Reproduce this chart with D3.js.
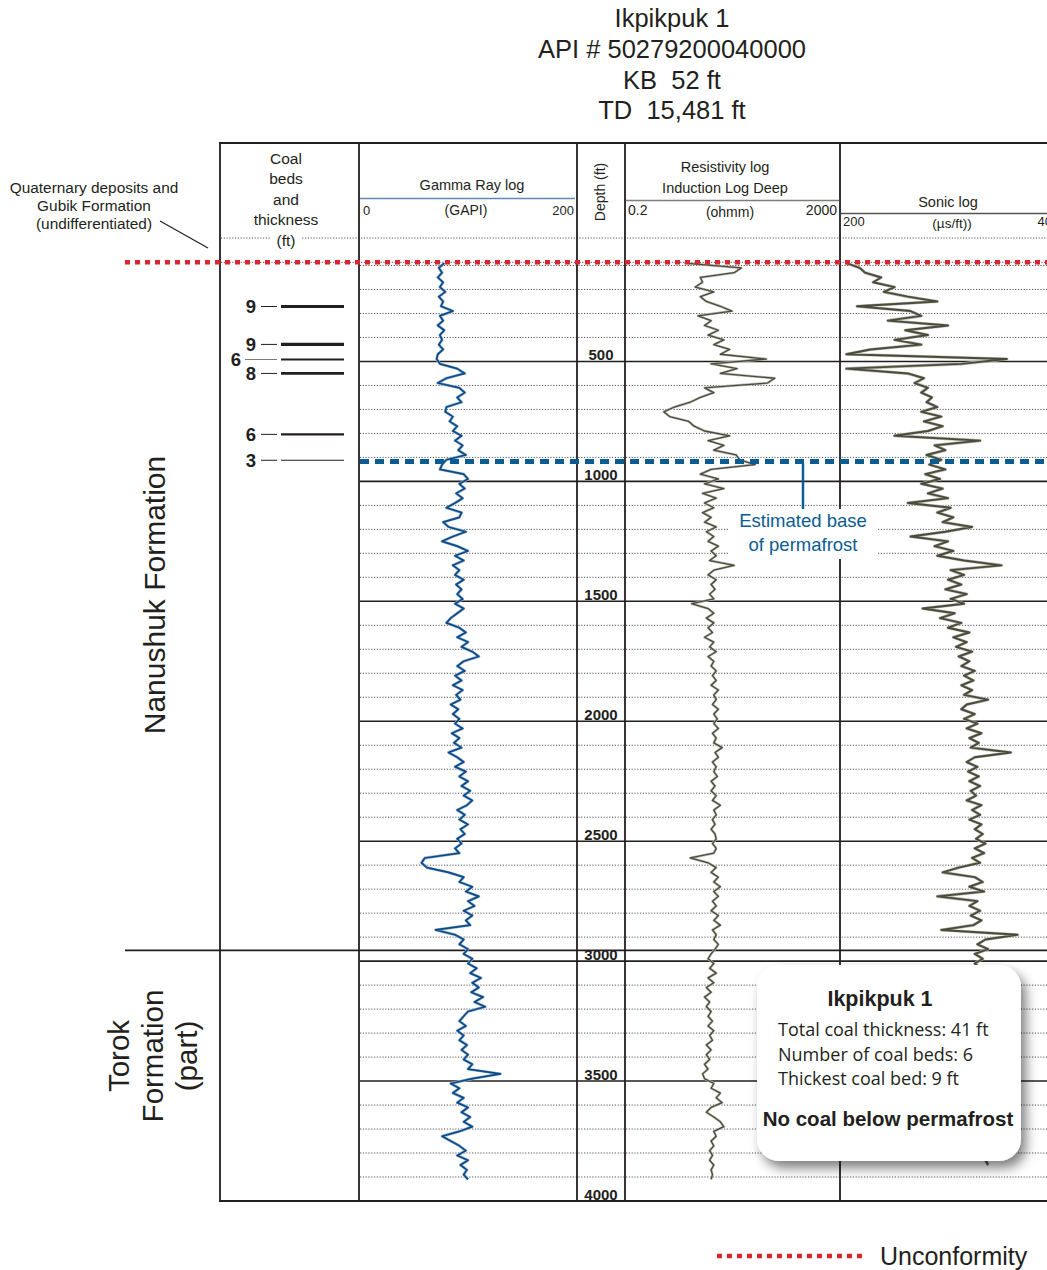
<!DOCTYPE html>
<html>
<head>
<meta charset="utf-8">
<title>Ikpikpuk 1</title>
<script src="https://cdn.jsdelivr.net/npm/d3@7"></script>
<style>
    body { margin: 0; background: #fff; }
    svg { display: block; font-family: "Liberation Sans", Arial, sans-serif; }
</style>
</head>
<body>
<script>
// well header
var titleLines = ["Ikpikpuk 1", "API # 50279200040000", "KB  52 ft", "TD  15,481 ft"];

// coal beds: depth (ft) and thickness (ft)
var coalDepths = [271, 429, 492, 550, 804, 912];
var coalThickness = [9, 9, 6, 8, 6, 3];

// markers (ft)
var unconformityDepth = 87;
var permafrostDepth = 917;
var formationTopTorok = 2955;

var depthLabels = [500, 1000, 1500, 2000, 2500, 3000, 3500, 4000];

// log samples, one every 20 ft starting at 90 ft
var logStart = 90, logStep = 20;

var gammaValues = [
    78, 73, 76, 72, 77, 74, 79, 73, 77, 75,
    86, 74, 77, 72, 78, 74, 76, 73, 77, 72,
    71, 74, 90, 97, 80, 72, 92, 97, 90, 94,
    80, 79, 86, 83, 90, 86, 94, 88, 95, 91,
    98, 80, 76, 74, 96, 100, 92, 97, 89, 95,
    88, 80, 94, 92, 77, 82, 98, 86, 76, 90,
    100, 88, 96, 86, 92, 88, 96, 89, 94, 90,
    95, 88, 96, 90, 84, 80, 92, 98, 90, 100,
    94, 104, 110, 96, 90, 97, 88, 94, 86, 95,
    89, 93, 84, 91, 86, 92, 88, 95, 85, 92,
    87, 94, 82, 90, 96, 88, 98, 92, 100, 94,
    102, 96, 104, 99, 90, 97, 92, 100, 93, 97,
    90, 94, 88, 92, 60, 57, 62, 82, 96, 92,
    104, 98, 110, 100, 106, 96, 104, 98, 102, 70,
    88, 96, 92, 100, 96, 104, 100, 108, 102, 112,
    104, 110, 103, 114, 106, 116, 100, 96, 92, 98,
    90, 96, 92, 99, 94, 100, 96, 104, 100, 130,
    104, 84, 92, 86, 96, 90, 100, 94, 102, 96,
    104, 92, 76, 84, 92, 98, 90, 100, 93, 99,
    96, 100
];

var resistivityValues = [
    2.5, 30, 22, 5, 5.5, 4.0, 9, 5, 6.5, 12,
    20, 4.5, 8, 6, 11, 7, 14, 9, 18, 12,
    90, 8, 25, 12, 130, 95, 6, 9, 5, 3.2,
    1.6, 1.0, 1.3, 3.0, 3.8, 6, 18, 7, 14, 9,
    24, 28, 55, 8, 5, 11, 6, 14, 5.5, 10,
    6, 9, 5.5, 8, 6, 10, 6.5, 9, 7, 11,
    8, 10, 7.5, 22, 9, 7, 10, 8, 9.5, 7.5,
    9, 3.4, 7, 9, 6.5, 9, 7, 8.5, 6, 9,
    7.5, 10, 7, 9, 8, 10, 8.5, 10, 8, 11,
    9, 10, 8.5, 11, 9, 10.5, 9, 11, 8.5, 10,
    9, 13, 9.5, 11, 8.5, 10, 9, 10.5, 8, 9.5,
    8, 10, 8.5, 12, 9, 10, 8.5, 9.5, 8, 9.5,
    10, 8.5, 10, 9, 3.2, 7, 10, 8, 11, 9,
    12, 9, 11, 8.5, 10, 8, 11, 9, 12, 8.5,
    10, 9, 11, 9.5, 8, 7, 9, 7.5, 10, 7,
    9, 6.5, 8, 6, 7.5, 6.5, 8, 7, 8.5, 7,
    9, 7.5, 8.5, 6.5, 8, 6.5, 7.5, 6, 7, 5.5,
    6, 9, 8, 12, 10, 13, 8, 6.5, 9, 12,
    14, 9, 10, 8, 9, 7.5, 8.5, 7.5, 9, 8,
    8.5, 8
];

var sonicValues = [
    196, 186, 182, 170, 176, 160, 168, 150, 128, 188,
    148, 140, 165, 120, 152, 135, 160, 140, 178, 196,
    76, 110, 196, 150, 138, 145, 135, 140, 132, 136,
    128, 140, 125, 138, 124, 135, 160, 96, 130, 122,
    136, 125, 134, 122, 137, 126, 140, 124, 135, 120,
    150, 118, 128, 116, 124, 102, 122, 148, 120, 130,
    116, 128, 108, 80, 118, 108, 120, 110, 122, 106,
    118, 108, 139, 115, 126, 110, 120, 104, 116, 106,
    114, 102, 112, 104, 110, 100, 108, 101, 110, 102,
    108, 90, 106, 110, 100, 108, 98, 106, 95, 104,
    97, 103, 73, 100, 106, 98, 105, 97, 104, 96,
    103, 99, 106, 95, 102, 96, 104, 95, 100, 94,
    99, 92, 100, 93, 102, 96, 112, 124, 100, 94,
    104, 93, 128, 98, 104, 96, 103, 95, 101, 125,
    68, 92, 98, 90, 100, 94, 100, 96, 104, 98,
    102, 97, 104, 99, 101, 96, 103, 98, 100, 97,
    102, 96, 101, 98, 104, 97, 100, 95, 102, 98,
    101, 97, 103, 96, 100, 98, 102, 97, 99, 96,
    101, 98, 100, 97, 102, 96, 99, 92, 90
];

var summaryLines = ["Total coal thickness: 41 ft", "Number of coal beds: 6", "Thickest coal bed: 9 ft"];

var width = 1047, height = 1270;
var ink = "#231f20";
var red = "#d7262e";
var blue = "#0b5c92";

var svg = d3.select("body")
    .append("svg")
    .attr("width", width)
    .attr("height", height);

var defs = svg.append("defs");
defs.append("filter")
    .attr("id", "shadow")
    .attr("x", "-20%").attr("y", "-20%")
    .attr("width", "150%").attr("height", "150%")
    .append("feDropShadow")
    .attr("dx", 5).attr("dy", 7)
    .attr("stdDeviation", 6)
    .attr("flood-color", "#000")
    .attr("flood-opacity", 0.5);

// scales
var y = d3.scaleLinear().domain([0, 4000]).range([241.5, 1201]);
var xGamma = d3.scaleLinear().domain([0, 200]).range([360, 576]);
var xRes = d3.scaleLog().domain([0.2, 2000]).range([627, 837]);
var xSonic = d3.scaleLinear().domain([200, 40]).range([841, 1055]);

var cols = [220, 359, 577, 625, 840];
var frameTop = 143, frameBottom = y(4000);

function toPoints(values) {
    return values.map(function (v, i) {
        return { depth: logStart + i * logStep, v: v };
    });
}

// title
svg.append("g")
    .selectAll("text")
    .data(titleLines)
    .enter().append("text")
    .attr("x", 672)
    .attr("y", function (d, i) { return 27 + i * 30.8; })
    .attr("text-anchor", "middle")
    .style("font-size", "25.5px")
    .style("white-space", "pre")
    .attr("fill", ink)
    .text(function (d) { return d; });

// depth grid, 100 ft dotted, 500 ft solid
var grid = svg.append("g");
var gridDepths = y.ticks(40).filter(function (d) { return d > 0 && d < 4000; });
grid.selectAll("line")
    .data(gridDepths)
    .enter().append("line")
    .attr("x1", 360)
    .attr("x2", width)
    .attr("y1", function (d) { return y(d); })
    .attr("y2", function (d) { return y(d); })
    .attr("stroke", function (d) { return d % 500 === 0 ? ink : "#555"; })
    .attr("stroke-width", function (d) { return d % 500 === 0 ? 1.6 : 1; })
    .attr("stroke-dasharray", function (d) { return d % 500 === 0 ? null : "1.2,1.6"; });

// header bottom dotted line and the thin line under the unconformity
[238, y(unconformityDepth)].forEach(function (yy) {
    svg.append("line")
        .attr("x1", 221).attr("x2", width)
        .attr("y1", yy).attr("y2", yy)
        .attr("stroke", "#555")
        .attr("stroke-width", 1)
        .attr("stroke-dasharray", "1.2,1.6");
});

// formation boundary
svg.append("line")
    .attr("x1", 125).attr("x2", width)
    .attr("y1", y(formationTopTorok)).attr("y2", y(formationTopTorok))
    .attr("stroke", ink)
    .attr("stroke-width", 1.8);

// logs
var line = function (xs) {
    return d3.line()
        .x(function (d) { return xs(d.v); })
        .y(function (d) { return y(d.depth); });
};

var logs = [
    { values: gammaValues, x: xGamma, color: "#0b4a86", halo: "#9fb8d2", w: 1.7 },
    { values: resistivityValues, x: xRes, color: "#4b4b3c", halo: "#b9b9b0", w: 1.3 },
    { values: sonicValues, x: xSonic, color: "#4b4b3c", halo: "#b9b9b0", w: 1.9 }
];

var logG = svg.append("g");
logs.forEach(function (l) {
    var pts = toPoints(l.values);
    logG.append("path")
        .datum(pts)
        .attr("d", line(l.x))
        .attr("fill", "none")
        .attr("stroke", l.halo)
        .attr("stroke-width", l.w + 1.2)
        .attr("stroke-linejoin", "round");
    logG.append("path")
        .datum(pts)
        .attr("d", line(l.x))
        .attr("fill", "none")
        .attr("stroke", l.color)
        .attr("stroke-width", l.w)
        .attr("stroke-linejoin", "round");
});

// column borders
svg.append("g")
    .selectAll("line")
    .data(cols)
    .enter().append("line")
    .attr("x1", function (d) { return d; })
    .attr("x2", function (d) { return d; })
    .attr("y1", frameTop)
    .attr("y2", frameBottom)
    .attr("stroke", ink)
    .attr("stroke-width", 1.8);

svg.append("line")
    .attr("x1", 219).attr("x2", width)
    .attr("y1", frameTop).attr("y2", frameTop)
    .attr("stroke", ink).attr("stroke-width", 1.8);
svg.append("line")
    .attr("x1", 219).attr("x2", width)
    .attr("y1", frameBottom).attr("y2", frameBottom)
    .attr("stroke", ink).attr("stroke-width", 1.8);

// headers
var head = svg.append("g").attr("fill", ink);

head.append("rect")
    .attr("x", 271).attr("y", 232).attr("width", 30).attr("height", 12)
    .attr("fill", "#fff");
head.selectAll(".coalhead")
    .data(["Coal", "beds", "and", "thickness", "(ft)"])
    .enter().append("text")
    .attr("class", "coalhead")
    .attr("x", 286)
    .attr("y", function (d, i) { return 163.5 + i * 20.6; })
    .attr("text-anchor", "middle")
    .style("font-size", "15.5px")
    .text(function (d) { return d; });

function headText(x, yy, txt, size, anchor) {
    head.append("text")
        .attr("x", x).attr("y", yy)
        .attr("text-anchor", anchor || "middle")
        .style("font-size", size + "px")
        .text(txt);
}

headText(472, 190, "Gamma Ray log", 14.5);
head.append("line").attr("x1", 360).attr("x2", 575).attr("y1", 198.5).attr("y2", 198.5)
    .attr("stroke", "#5f8ab4").attr("stroke-width", 1.5);
headText(363, 215, "0", 13, "start");
headText(466, 215, "(GAPI)", 14);
headText(574, 215, "200", 13, "end");

head.append("text")
    .attr("transform", "translate(605,192) rotate(-90)")
    .attr("text-anchor", "middle")
    .style("font-size", "14px")
    .text("Depth (ft)");

headText(725, 172, "Resistivity log", 14.5);
headText(725, 193, "Induction Log Deep", 14.5);
head.append("line").attr("x1", 626).attr("x2", 839).attr("y1", 200.5).attr("y2", 200.5)
    .attr("stroke", "#7d7d7d").attr("stroke-width", 1.5);
headText(628, 215, "0.2", 14, "start");
headText(730, 217, "(ohmm)", 14);
headText(837, 215, "2000", 14, "end");

headText(948, 207, "Sonic log", 14.5);
head.append("line").attr("x1", 841).attr("x2", width).attr("y1", 213.5).attr("y2", 213.5)
    .attr("stroke", "#555").attr("stroke-width", 1.5);
headText(843, 226, "200", 13, "start");
headText(952, 228, "(\u00b5s/ft))", 13.5);
headText(1052, 226, "40", 13, "end");

// depth labels
svg.append("g")
    .selectAll("text")
    .data(depthLabels)
    .enter().append("text")
    .attr("x", 601)
    .attr("y", function (d) { return y(d) - 1; })
    .attr("text-anchor", "middle")
    .style("font-size", "15px")
    .style("font-weight", "bold")
    .attr("fill", ink)
    .text(function (d) { return d; });

// coal beds
var coal = svg.append("g");
coalDepths.forEach(function (d, i) {
    var yy = y(d);
    var prev = i > 0 ? d - coalDepths[i - 1] : 1e9;
    var next = i < coalDepths.length - 1 ? coalDepths[i + 1] - d : 1e9;
    var crowded = prev < 70 && next < 70;
    coal.append("line")
        .attr("x1", crowded ? 245 : 261).attr("x2", 277)
        .attr("y1", yy).attr("y2", yy)
        .attr("stroke", crowded ? "#777" : ink)
        .attr("stroke-width", 1);
    coal.append("line")
        .attr("x1", 281).attr("x2", 344)
        .attr("y1", yy).attr("y2", yy)
        .attr("stroke", ink)
        .attr("stroke-width", Math.max(1, coalThickness[i] / 2.8));
    coal.append("text")
        .attr("x", crowded ? 241 : 256)
        .attr("y", yy + 6.5)
        .attr("text-anchor", "end")
        .style("font-size", "18.5px")
        .style("font-weight", "bold")
        .attr("fill", ink)
        .text(coalThickness[i]);
});

// unconformity
function redDots(x1, x2, yy) {
    svg.append("line")
        .attr("x1", x1).attr("x2", x2)
        .attr("y1", yy).attr("y2", yy)
        .attr("stroke", red)
        .attr("stroke-width", 4.5)
        .attr("stroke-dasharray", "5,5");
}
redDots(125, width, y(unconformityDepth));

// permafrost
svg.append("line")
    .attr("x1", 360).attr("x2", width)
    .attr("y1", y(permafrostDepth)).attr("y2", y(permafrostDepth))
    .attr("stroke", blue)
    .attr("stroke-width", 5)
    .attr("stroke-dasharray", "9,6");

svg.append("rect")
    .attr("x", 728).attr("y", 509).attr("width", 150).attr("height", 50)
    .attr("fill", "#fff");
svg.append("line")
    .attr("x1", 803).attr("x2", 803)
    .attr("y1", y(permafrostDepth) + 2).attr("y2", 509)
    .attr("stroke", blue)
    .attr("stroke-width", 2.5);
svg.selectAll(".perma")
    .data(["Estimated base", "of permafrost"])
    .enter().append("text")
    .attr("class", "perma")
    .attr("x", 803)
    .attr("y", function (d, i) { return 527 + i * 24; })
    .attr("text-anchor", "middle")
    .style("font-size", "18.5px")
    .attr("fill", blue)
    .text(function (d) { return d; });

// formation names
svg.append("text")
    .attr("transform", "translate(165,595) rotate(-90)")
    .attr("text-anchor", "middle")
    .style("font-size", "30px")
    .attr("fill", ink)
    .text("Nanushuk Formation");

svg.append("g")
    .selectAll("text")
    .data(["Torok", "Formation", "(part)"])
    .enter().append("text")
    .attr("transform", function (d, i) { return "translate(" + (129 + i * 34) + ",1056) rotate(-90)"; })
    .attr("text-anchor", "middle")
    .style("font-size", "29.5px")
    .attr("fill", ink)
    .text(function (d) { return d; });

// quaternary callout
svg.selectAll(".quat")
    .data(["Quaternary deposits and", "Gubik Formation", "(undifferentiated)"])
    .enter().append("text")
    .attr("class", "quat")
    .attr("x", 94)
    .attr("y", function (d, i) { return 193 + i * 18; })
    .attr("text-anchor", "middle")
    .style("font-size", "15.4px")
    .attr("fill", ink)
    .text(function (d) { return d; });
svg.append("line")
    .attr("x1", 160).attr("y1", 221)
    .attr("x2", 208).attr("y2", 248)
    .attr("stroke", ink)
    .attr("stroke-width", 1.2);

// summary box
var box = svg.append("g");
box.append("rect")
    .attr("x", 757).attr("y", 965)
    .attr("width", 264).attr("height", 196)
    .attr("rx", 22)
    .attr("fill", "#fff")
    .attr("filter", "url(#shadow)");
box.append("text")
    .attr("x", 880).attr("y", 1006)
    .attr("text-anchor", "middle")
    .style("font-size", "21.5px")
    .style("font-weight", "bold")
    .attr("fill", ink)
    .text("Ikpikpuk 1");
box.selectAll(".sum")
    .data(summaryLines)
    .enter().append("text")
    .attr("class", "sum")
    .attr("x", 778)
    .attr("y", function (d, i) { return 1036 + i * 24.5; })
    .style("font-family", "'Open Sans', 'Noto Sans', sans-serif")
    .style("font-size", "18px")
    .attr("fill", ink)
    .text(function (d) { return d; });
box.append("text")
    .attr("x", 888).attr("y", 1126)
    .attr("text-anchor", "middle")
    .style("font-size", "20.5px")
    .style("font-weight", "bold")
    .attr("fill", ink)
    .text("No coal below permafrost");

// legend
redDots(717, 862, 1256);
svg.append("text")
    .attr("x", 880).attr("y", 1265)
    .style("font-size", "25px")
    .attr("fill", ink)
    .text("Unconformity");
</script>
</body>
</html>
